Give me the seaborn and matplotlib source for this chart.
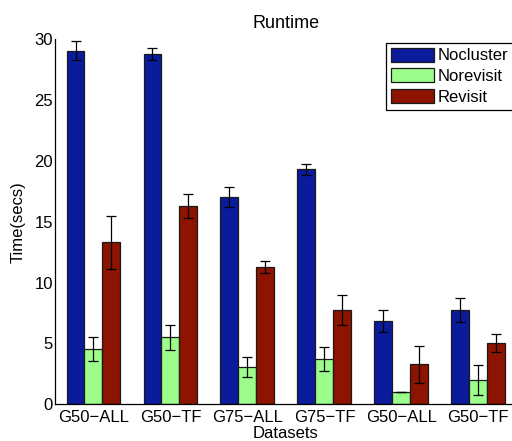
import numpy as np
import pandas as pd
import matplotlib
matplotlib.use("Agg")
import matplotlib.pyplot as plt
import seaborn as sns

# Runtime per dataset for each method (seconds) with error half-widths
datasets = ["G50−ALL", "G50−TF", "G75−ALL", "G75−TF", "G50−ALL", "G50−TF"]
methods = ["Nocluster", "Norevisit", "Revisit"]
nocluster = [29.05, 28.8, 17.05, 19.33, 6.85, 7.75]
norevisit = [4.52, 5.5, 3.04, 3.72, 1.01, 1.97]
revisit = [13.3, 16.27, 11.26, 7.75, 3.29, 5.04]
nocluster_err = [0.8, 0.5, 0.8, 0.45, 0.93, 0.95]
norevisit_err = [1.0, 1.0, 0.82, 0.95, 0.03, 1.23]
revisit_err = [2.15, 1.0, 0.5, 1.25, 1.5, 0.77]
colors = ["#0A1C9C", "#9CFC8C", "#8C1400"]

values = [nocluster, norevisit, revisit]
errors = [nocluster_err, norevisit_err, revisit_err]

rows = []
for m, vals, errs in zip(methods, values, errors):
    for i, (v, e) in enumerate(zip(vals, errs)):
        rows.append({"group": i, "method": m, "time": v, "err": e})
df = pd.DataFrame(rows)

sns.set_style("white")
plt.rcParams["font.family"] = ["Liberation Sans", "DejaVu Sans"]
plt.rcParams["font.size"] = 12
plt.rcParams["text.color"] = "black"
plt.rcParams["axes.labelcolor"] = "black"
plt.rcParams["xtick.color"] = "black"
plt.rcParams["ytick.color"] = "black"

fig = plt.figure(figsize=(5.12, 4.41), dpi=100)
ax = fig.add_axes([0.1074, 0.0832, 0.902, 0.828])

sns.barplot(data=df, x="group", y="time", hue="method", hue_order=methods,
            palette=colors, saturation=1, width=0.7, errorbar=None,
            edgecolor="#1a1a1a", linewidth=0.9, ax=ax, legend=True)

# error bars centred on each drawn bar
for container, m in zip(ax.containers, methods):
    sub = df[df["method"] == m].sort_values("group")
    xs = [b.get_x() + b.get_width() / 2 for b in container]
    ax.errorbar(xs, sub["time"].values, yerr=sub["err"].values, fmt="none",
                ecolor="black", elinewidth=0.9, capsize=3.5, capthick=0.9,
                zorder=5)

ax.set_xlim(-0.5, 5.5)
ax.set_ylim(0, 30)
ax.set_yticks([0, 5, 10, 15, 20, 25, 30])
ax.set_xticks(range(len(datasets)))
ax.set_xticklabels(datasets)
ax.tick_params(axis="both", length=0, labelsize=12, labelcolor="black")
ax.tick_params(axis="y", pad=1.5)
ax.tick_params(axis="x", pad=4)
ax.set_title("Runtime", fontsize=13, pad=8, color="black")
ax.set_xlabel("Datasets", fontsize=12, labelpad=0.5, color="black")
ax.set_ylabel("Time(secs)", fontsize=12, labelpad=6, color="black")

for side in ["top", "right"]:
    ax.spines[side].set_visible(False)
for side in ["left", "bottom"]:
    ax.spines[side].set_color("black")
    ax.spines[side].set_linewidth(0.9)

handles, labels = ax.get_legend_handles_labels()
leg = ax.legend(handles, labels, loc="upper left", bbox_to_anchor=(0.754, 0.903),
                bbox_transform=fig.transFigure, frameon=True, fancybox=False,
                edgecolor="black", framealpha=1, fontsize=12, handlelength=2.55,
                handleheight=0.9, handletextpad=0.25, labelspacing=0.3,
                borderpad=0.3, borderaxespad=0)
leg.get_frame().set_linewidth(0.9)
for t in leg.get_texts():
    t.set_color("black")

fig.savefig("out.png", dpi=100)
